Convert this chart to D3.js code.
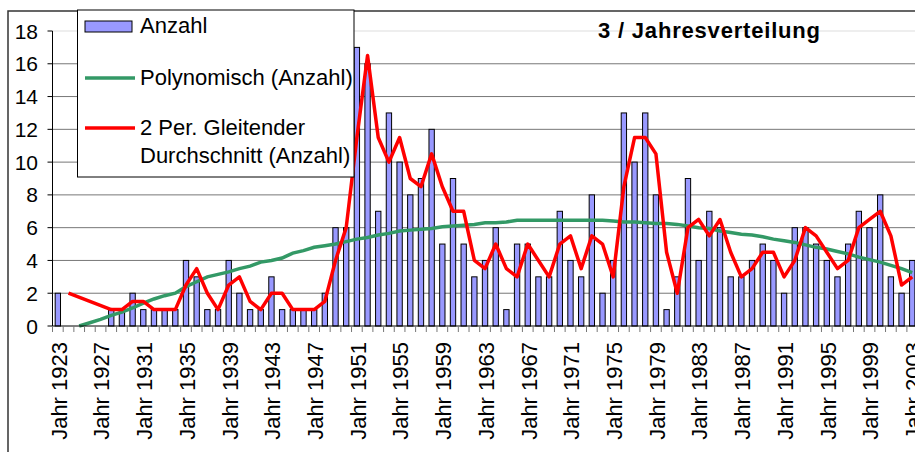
<!DOCTYPE html>
<html lang="de">
<head>
<meta charset="utf-8">
<title>3 / Jahresverteilung</title>
<script src="https://cdn.jsdelivr.net/npm/d3@7"></script>
<style>
	body, html { margin: 0; padding: 0; background: #fff; }
	svg { display: block; }
	.txt { font-family: "Liberation Sans", Arial, sans-serif; fill: #000; }
	.ylab { font-size: 21px; text-anchor: end; }
	.xlab { font-size: 22px; text-anchor: end; }
	.leg { font-size: 22px; }
	.title { font-size: 22px; font-weight: bold; }
</style>
</head>
<body>
<script>
// Kategorien (Jahre)
var years = [
	1923, 1924, 1925, 1926, 1927, 1928, 1929, 1930, 1931, 1932,
	1933, 1934, 1935, 1936, 1937, 1938, 1939, 1940, 1941, 1942,
	1943, 1944, 1945, 1946, 1947, 1948, 1949, 1950, 1951, 1952,
	1953, 1954, 1955, 1956, 1957, 1958, 1959, 1960, 1961, 1962,
	1963, 1964, 1965, 1966, 1967, 1968, 1969, 1970, 1971, 1972,
	1973, 1974, 1975, 1976, 1977, 1978, 1979, 1980, 1981, 1982,
	1983, 1984, 1985, 1986, 1987, 1988, 1989, 1990, 1991, 1992,
	1993, 1994, 1995, 1996, 1997, 1998, 1999, 2000, 2001, 2002,
	2003
];

// Anzahl pro Jahr (Balken)
var anzahl = [
	2, null, null, null, null, 1, 1, 2, 1, 1,
	1, 1, 4, 3, 1, 1, 4, 2, 1, 1,
	3, 1, 1, 1, 1, 2, 6, 6, 17, 16,
	7, 13, 10, 8, 9, 12, 5, 9, 5, 3,
	4, 6, 1, 5, 5, 3, 3, 7, 4, 3,
	8, 2, 4, 13, 10, 13, 8, 1, 3, 9,
	4, 7, 6, 3, 3, 4, 5, 4, 2, 6,
	6, 5, 4, 3, 5, 7, 6, 8, 3, 2,
	4
];

// 2 Per. Gleitender Durchschnitt (rote Linie)
var gleitend = [
	null, 2, null, null, null, 1, 1, 1.5, 1.5, 1,
	1, 1, 2.5, 3.5, 2, 1, 2.5, 3, 1.5, 1,
	2, 2, 1, 1, 1, 1.5, 4, 6, 11.5, 16.5,
	11.5, 10, 11.5, 9, 8.5, 10.5, 8.5, 7, 7, 4,
	3.5, 5, 3.5, 3, 5, 4, 3, 5, 5.5, 3.5,
	5.5, 5, 3, 8.5, 11.5, 11.5, 10.5, 4.5, 2, 6,
	6.5, 5.5, 6.5, 4.5, 3, 3.5, 4.5, 4.5, 3, 4,
	6, 5.5, 4.5, 3.5, 4, 6, 6.5, 7, 5.5, 2.5,
	3
];

// Polynomische Trendlinie (grün)
var polynom = [
	null, null, 0, 0.2, 0.4, 0.65, 0.85, 1.1, 1.4, 1.65,
	1.85, 2.0, 2.4, 2.7, 3.0, 3.15, 3.3, 3.5, 3.65, 3.9,
	4.0, 4.15, 4.45, 4.6, 4.8, 4.9, 5.0, 5.15, 5.3, 5.4,
	5.55, 5.65, 5.8, 5.85, 5.9, 5.95, 6.05, 6.1, 6.15, 6.2,
	6.3, 6.3, 6.35, 6.45, 6.45, 6.45, 6.45, 6.45, 6.45, 6.45,
	6.45, 6.45, 6.4, 6.35, 6.35, 6.3, 6.25, 6.25, 6.2, 6.1,
	6.0, 5.95, 5.8, 5.7, 5.6, 5.55, 5.45, 5.3, 5.2, 5.1,
	4.95, 4.8, 4.7, 4.55, 4.4, 4.2, 4.05, 3.9, 3.7, 3.5,
	3.25
];

var yTicks = [0, 2, 4, 6, 8, 10, 12, 14, 16, 18];
var xLabelYears = [1923, 1927, 1931, 1935, 1939, 1943, 1947, 1951, 1955, 1959,
	1963, 1967, 1971, 1975, 1979, 1983, 1987, 1991, 1995, 1999, 2003];

var legendItems = ["Anzahl", "Polynomisch (Anzahl)", "2 Per. Gleitender", "Durchschnitt (Anzahl)"];

// Maße
var w = 915;
var h = 452;
var plotLeft = 52.5;
var plotTop = 31;
var plotBottom = 326;
var bandW = 10.68;

var svg = d3.select("body")
	.append("svg")
	.attr("width", w)
	.attr("height", h);

var x = d3.scaleBand()
	.domain(years)
	.range([plotLeft, plotLeft + years.length * bandW])
	.padding(0);

var y = d3.scaleLinear()
	.domain([0, 18])
	.range([plotBottom, plotTop]);

// Rahmen des Diagramms
svg.append("path")
	.attr("d", "M8," + h + "V11H" + w)
	.attr("fill", "none")
	.attr("stroke", "#333")
	.attr("stroke-width", 1.5);

// Gitterlinien
svg.selectAll(".grid")
	.data(yTicks.filter(function (d) { return d > 0; }))
	.enter()
	.append("line")
	.attr("x1", plotLeft)
	.attr("x2", w)
	.attr("y1", function (d) { return y(d); })
	.attr("y2", function (d) { return y(d); })
	.attr("stroke", function (d) { return d === 18 ? "#ddd" : "#777"; })
	.attr("stroke-width", 1);

// Balken
var barW = x.bandwidth() * 0.5;
svg.selectAll(".bar")
	.data(years.map(function (yr, i) { return { year: yr, v: anzahl[i] }; })
		.filter(function (d) { return d.v !== null; }))
	.enter()
	.append("rect")
	.attr("x", function (d) { return x(d.year) + (x.bandwidth() - barW) / 2; })
	.attr("y", function (d) { return y(d.v); })
	.attr("width", barW)
	.attr("height", function (d) { return y(0) - y(d.v); })
	.attr("fill", "#9999ff")
	.attr("stroke", "#000")
	.attr("stroke-width", 1);

var cx = function (yr) { return x(yr) + x.bandwidth() / 2; };

// Trendlinie
var polyPts = years.map(function (yr, i) { return [yr, polynom[i]]; })
	.filter(function (d) { return d[1] !== null; });
svg.append("path")
	.datum(polyPts)
	.attr("d", d3.line().x(function (d) { return cx(d[0]); }).y(function (d) { return y(d[1]); }))
	.attr("fill", "none")
	.attr("stroke", "#339966")
	.attr("stroke-width", 3.5);

// Gleitender Durchschnitt
var avgPts = years.map(function (yr, i) { return [yr, gleitend[i]]; })
	.filter(function (d) { return d[1] !== null; });
svg.append("path")
	.datum(avgPts)
	.attr("d", d3.line().x(function (d) { return cx(d[0]); }).y(function (d) { return y(d[1]); }))
	.attr("fill", "none")
	.attr("stroke", "#ff0000")
	.attr("stroke-width", 3.5)
	.attr("stroke-linejoin", "round");

// Achsen
svg.append("line")
	.attr("x1", plotLeft).attr("x2", plotLeft)
	.attr("y1", plotTop).attr("y2", plotBottom)
	.attr("stroke", "#000");
svg.append("line")
	.attr("x1", plotLeft).attr("x2", w)
	.attr("y1", plotBottom).attr("y2", plotBottom)
	.attr("stroke", "#000");

svg.selectAll(".ytick")
	.data(yTicks)
	.enter()
	.append("line")
	.attr("x1", plotLeft - 5).attr("x2", plotLeft)
	.attr("y1", function (d) { return y(d); })
	.attr("y2", function (d) { return y(d); })
	.attr("stroke", "#000");

svg.selectAll(".ylab")
	.data(yTicks)
	.enter()
	.append("text")
	.attr("class", "txt ylab")
	.attr("x", 38)
	.attr("y", function (d) { return y(d); })
	.attr("dy", "0.36em")
	.text(function (d) { return d; });

svg.selectAll(".xtick")
	.data(years)
	.enter()
	.append("line")
	.attr("x1", function (d) { return x(d); })
	.attr("x2", function (d) { return x(d); })
	.attr("y1", plotBottom)
	.attr("y2", plotBottom + 6)
	.attr("stroke", "#777");

svg.selectAll(".xlab")
	.data(xLabelYears)
	.enter()
	.append("text")
	.attr("class", "txt xlab")
	.attr("transform", function (d) { return "translate(" + cx(d) + "," + 342 + ") rotate(-90)"; })
	.attr("dy", "0.4em")
	.text(function (d) { return "Jahr " + d; });

// Titel
svg.append("text")
	.attr("class", "txt title")
	.attr("x", 598)
	.attr("y", 38)
	.attr("textLength", 222)
	.attr("lengthAdjust", "spacing")
	.text("3 / Jahresverteilung");

// Legende
var leg = svg.append("g");
leg.append("rect")
	.attr("x", 77.5).attr("y", 10)
	.attr("width", 276.5).attr("height", 167)
	.attr("fill", "#fff")
	.attr("stroke", "#000");
leg.append("rect")
	.attr("x", 85).attr("y", 21)
	.attr("width", 47).attr("height", 11)
	.attr("fill", "#9999ff")
	.attr("stroke", "#000");
leg.append("line")
	.attr("x1", 85).attr("x2", 135)
	.attr("y1", 78).attr("y2", 78)
	.attr("stroke", "#339966").attr("stroke-width", 3.5);
leg.append("line")
	.attr("x1", 85).attr("x2", 135)
	.attr("y1", 128).attr("y2", 128)
	.attr("stroke", "#ff0000").attr("stroke-width", 3.5);
leg.selectAll(".leg")
	.data(legendItems)
	.enter()
	.append("text")
	.attr("class", "txt leg")
	.attr("x", 140)
	.attr("y", function (d, i) { return [33, 85, 135, 163][i]; })
	.text(function (d) { return d; });
</script>
</body>
</html>
